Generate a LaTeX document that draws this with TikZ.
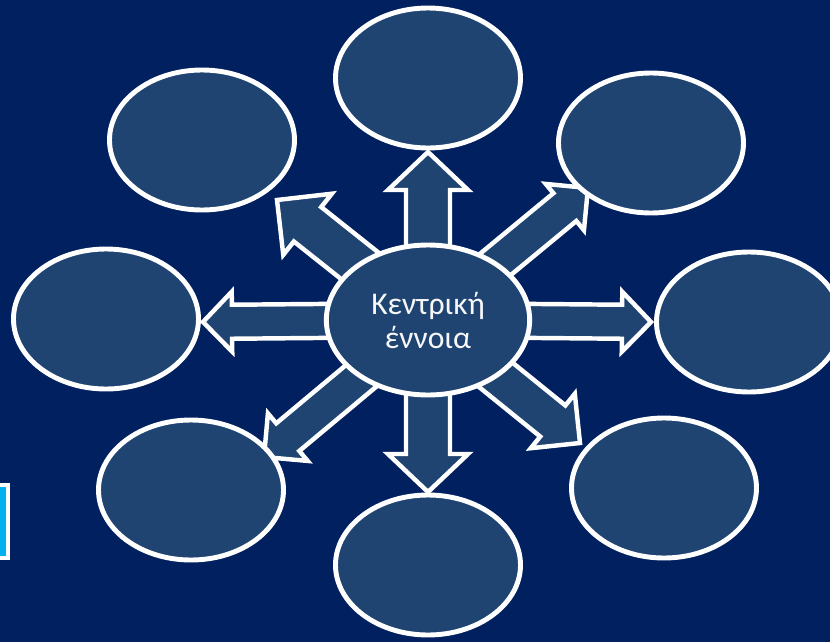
\documentclass[tikz,border=0pt]{standalone}
\usepackage{fontspec}
\setmainfont{Carlito}
\usepackage{xcolor}
\usetikzlibrary{shapes.geometric, calc, shadows}
\definecolor{bgblue}{HTML}{002060}
\definecolor{bubblefill}{HTML}{1F4471}
\definecolor{tabcyan}{HTML}{00B0F0}
\tikzset{
  softshadow/.style={drop shadow={opacity=0.35, shadow xshift=1.5pt, shadow yshift=-1.5pt}},
  bubble/.style={ellipse, draw=white, line width=4.2pt, fill=bubblefill, minimum width=5.55cm, minimum height=4.2cm, inner sep=0pt, softshadow},
  core/.style={bubble, minimum width=6.1cm, minimum height=4.5cm, text=white!94!gray, align=center, font=\fontsize{27}{29}\selectfont},
  bigarrow/.style={draw=white, line width=3.8pt, fill=bubblefill, line join=miter, softshadow},
}
% block arrow: from, tip, shaft half width, head half width, head length (px)
\newcommand{\blockarrow}[5]{%
  \coordinate (hb) at ($(#2)!#5*0.03cm!(#1)$);
  \draw[bigarrow] ($(#1)!#3*0.03cm!90:(#2)$) -- ($(hb)!#3*0.03cm!-90:(#1)$) -- ($(hb)!#4*0.03cm!-90:(#1)$) -- (#2)
    -- ($(hb)!#4*0.03cm!90:(#1)$) -- ($(hb)!#3*0.03cm!90:(#1)$) -- ($(#1)!#3*0.03cm!-90:(#2)$) -- cycle;
}

\begin{document}
\begin{tikzpicture}[x=0.03cm, y=-0.03cm]
    \fill[bgblue] (0,0) rectangle (830,642);
    \useasboundingbox (0,0) rectangle (830,642);
    % tab at the left edge
    \draw[white, line width=3.4pt, fill=tabcyan] (-30,485) rectangle (8,558);
    % arrows from the centre
    \coordinate (c) at (428,320);
    \coordinate (tipN) at (428,152);
    \coordinate (tipS) at (428,492);
    \coordinate (tipW) at (203,322);
    \coordinate (tipE) at (651,322);
    \coordinate (tipNW) at (277,200);
    \coordinate (tipNE) at (588,188);
    \coordinate (tipSE) at (580,443);
    \coordinate (tipSW) at (264,457);
    \blockarrow{c}{tipN}{22}{40}{38}
    \blockarrow{c}{tipS}{22}{40}{38}
    \blockarrow{c}{tipW}{17}{30}{29}
    \blockarrow{c}{tipE}{17}{30}{29}
    \blockarrow{c}{tipNW}{22}{39}{39}
    \blockarrow{c}{tipNE}{18}{30}{30}
    \blockarrow{c}{tipSE}{20}{35}{35}
    \blockarrow{c}{tipSW}{18}{31}{31}
    % centre and outer bubbles
    \node[core] (centre) at (c) {Κεντρική\\έννοια};
    \node[bubble] (top) at (428,78) {};
    \node[bubble] (topleft) at (202,140) {};
    \node[bubble] (topright) at (651,143) {};
    \node[bubble] (left) at (106,319) {};
    \node[bubble] (right) at (749,322) {};
    \node[bubble] (botleft) at (191,490) {};
    \node[bubble] (botright) at (664,488) {};
    \node[bubble] (bottom) at (428,565) {};
\end{tikzpicture}
\end{document}
